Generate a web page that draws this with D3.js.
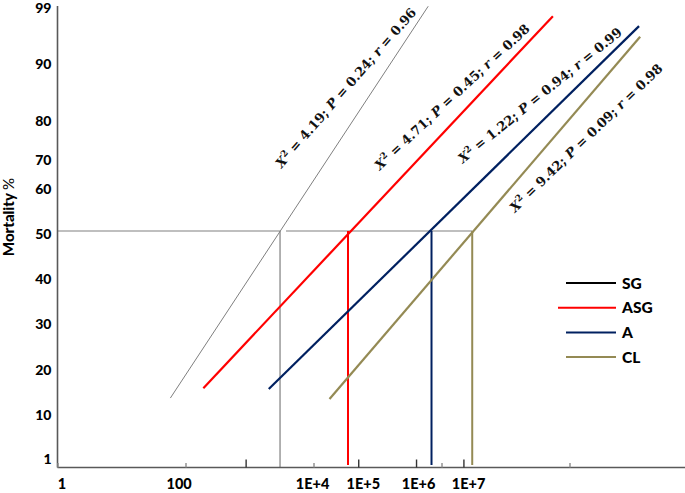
<!DOCTYPE html>
<html>
<head>
<meta charset="utf-8">
<script src="https://cdn.jsdelivr.net/npm/d3@7"></script>
<style>
  body { margin: 0; background: #fff; }
  svg { display: block; }
</style>
</head>
<body>
<div id="chart"></div>
<script>
// ---- data ----
const series = ["SG", "ASG", "A", "CL"]
const lineColors = ["#7f7f7f", "#ff0000", "#002060", "#948a54"]
const legendColors = ["#000000", "#ff0000", "#002060", "#948a54"]

// fitted probit lines: lower and upper end (dose, mortality %)
const lowDose = [58, 190, 2000, 17800]
const lowMort = [13.1, 15.3, 15.1, 12.9]
const highDose = [6.2e5, 5.5e7, 1.22e9, 1.27e9]
const highMort = [98.8, 97.2, 95.6, 93.9]
const lc50 = [3000, 34600, 6.98e5, 3.02e6]

// goodness of fit labels
const chi2 = ["4.19", "4.71", "1.22", "9.42"]
const pVal = ["0.24", "0.45", "0.94", "0.09"]
const rVal = ["0.96", "0.98", "0.99", "0.98"]
const noteDose = [3.2e4, 1.46e6, 3.46e7, 1.81e8]
const noteMort = [85.3, 83.7, 84.0, 74.9]
const noteAngle = [49, 43, 39, 44]

// axes
const yTicks = [1, 10, 20, 30, 40, 50, 60, 70, 80, 90, 99]
const xLabels = ["1", "100", "1E+4", "1E+5", "1E+6", "1E+7"]
const xLabelAt = [1.15, 78, 9500, 5.9e4, 4.3e5, 2.6e6]
const xMinorTicks = [1, 1e2, 1e4, 1e6, 1e8]
const xMarkTicks = [870, 5.0e4, 4.0e5, 2.2e6]

// ---- layout ----
const width = 685, height = 493
const axisX = 57.5, axisY = 467.5
// hand-spaced mortality axis of the original (pixel row of each tick)
const yTickPx = [456, 412, 367, 321, 276, 231, 186, 157, 118, 61, 5]

const x = d3.scaleLog().domain([1, 10 ** 9.8]).range([axisX, axisX + 64 * 9.8])
const y = d3.scaleLinear().domain(yTicks).range(yTickPx)

const svg = d3.select("#chart").append("svg")
  .attr("width", width)
  .attr("height", height)
  .style("font-family", "Lato, 'Open Sans', sans-serif")

// 50% reference lines
const hSegs = [[1, lc50[0]], [lc50[0] * 1.24, lc50[3]]]
svg.append("g").selectAll("line").data(hSegs).join("line")
  .attr("x1", d => x(d[0]))
  .attr("x2", d => x(d[1]))
  .attr("y1", y(50)).attr("y2", y(50))
  .attr("stroke", "#808080").attr("stroke-width", 1.2)

// drop lines from LC50 to the x axis
svg.append("g").selectAll("line").data(series).join("line")
  .attr("x1", (d, i) => x(lc50[i]))
  .attr("x2", (d, i) => x(lc50[i]))
  .attr("y1", y(50))
  .attr("y2", (d, i) => i === 0 ? axisY : axisY - 2.5)
  .attr("stroke", (d, i) => lineColors[i])
  .attr("stroke-width", (d, i) => i === 0 ? 1.2 : 2)

// probit lines
svg.append("g").selectAll("line").data(series).join("line")
  .attr("x1", (d, i) => x(lowDose[i]))
  .attr("y1", (d, i) => y(lowMort[i]))
  .attr("x2", (d, i) => x(highDose[i]))
  .attr("y2", (d, i) => y(highMort[i]))
  .attr("stroke", (d, i) => lineColors[i])
  .attr("stroke-width", (d, i) => i === 0 ? 1 : 2.2)

// fit statistics along each line
const notes = svg.append("g").selectAll("text").data(series).join("text")
  .attr("transform", (d, i) => `translate(${x(noteDose[i])},${y(noteMort[i])}) rotate(${-noteAngle[i]})`)
  .attr("text-anchor", "middle")
  .attr("dy", "0.35em")
  .style("font-family", "'DejaVu Serif', 'Liberation Serif', serif")
  .style("font-weight", "bold")
  .style("font-size", "13px")
  .attr("fill", "#111")

notes.each(function (d, i) {
  const t = d3.select(this)
  t.append("tspan").style("font-style", "italic").text("X")
  t.append("tspan").attr("dy", -5).style("font-size", "9px").text("2")
  t.append("tspan").attr("dy", 5).text(` = ${chi2[i]}; `)
  t.append("tspan").style("font-style", "italic").text("P")
  t.append("tspan").text(` = ${pVal[i]}; `)
  t.append("tspan").style("font-style", "italic").text("r")
  t.append("tspan").text(` = ${rVal[i]}`)
})

// axis lines
svg.append("line")
  .attr("x1", axisX).attr("x2", axisX)
  .attr("y1", 6).attr("y2", axisY)
  .attr("stroke", "#595959").attr("stroke-width", 1.6)
svg.append("line")
  .attr("x1", axisX).attr("x2", width)
  .attr("y1", axisY).attr("y2", axisY)
  .attr("stroke", "#595959").attr("stroke-width", 1.6)

// y axis labels
const yAxis = svg.append("g")
  .attr("transform", `translate(${axisX},0)`)
  .call(d3.axisLeft(y).tickValues(yTicks).tickSize(0).tickPadding(6).tickFormat(d3.format("d")))
yAxis.select(".domain").remove()
yAxis.selectAll("text")
  .attr("dy", "0.5em")
  .style("font-family", "Lato, sans-serif")
  .style("font-weight", "900")
  .style("font-size", "14px")
  .attr("fill", "#000")

// x axis: small ticks, marker ticks and labels
const xMinor = svg.append("g")
  .attr("transform", `translate(0,${axisY})`)
  .call(d3.axisBottom(x).tickValues(xMinorTicks).tickSize(-4.5).tickFormat(""))
xMinor.select(".domain").remove()
xMinor.selectAll("line").attr("stroke", "#8c8c8c").attr("stroke-width", 1.4)

const xMark = svg.append("g")
  .attr("transform", `translate(0,${axisY})`)
  .call(d3.axisBottom(x).tickValues(xMarkTicks).tickSize(-8).tickFormat(""))
xMark.select(".domain").remove()
xMark.selectAll("line").attr("stroke", "#333").attr("stroke-width", 1.4)

const xAxis = svg.append("g")
  .attr("transform", `translate(0,${axisY})`)
  .call(d3.axisBottom(x).tickValues(xLabelAt).tickSize(0).tickPadding(11).tickFormat((d, i) => xLabels[i]))
xAxis.select(".domain").remove()
xAxis.selectAll("text")
  .style("font-family", "Lato, sans-serif")
  .style("font-weight", "900")
  .style("font-size", "14.5px")
  .attr("fill", "#000")

// y axis title
const yTitle = svg.append("text")
  .attr("transform", `translate(14,217) rotate(-90)`)
  .attr("text-anchor", "middle")
  .style("font-size", "15px")
  .attr("fill", "#000")
yTitle.append("tspan").style("font-weight", "900").text("Mortality ")
yTitle.append("tspan").text("%")

// legend
const legend = svg.append("g").selectAll("g").data(series).join("g")
  .attr("transform", (d, i) => `translate(566,${283 + i * 24.7})`)
legend.append("line")
  .attr("x1", (d, i) => i === 1 ? -8 : 0)
  .attr("x2", 50)
  .attr("stroke", (d, i) => legendColors[i])
  .attr("stroke-width", 2)
legend.append("text")
  .attr("x", 56)
  .attr("dy", "0.36em")
  .style("font-weight", "900")
  .style("font-size", "15.5px")
  .attr("fill", "#000")
  .text(d => d)
</script>
</body>
</html>
